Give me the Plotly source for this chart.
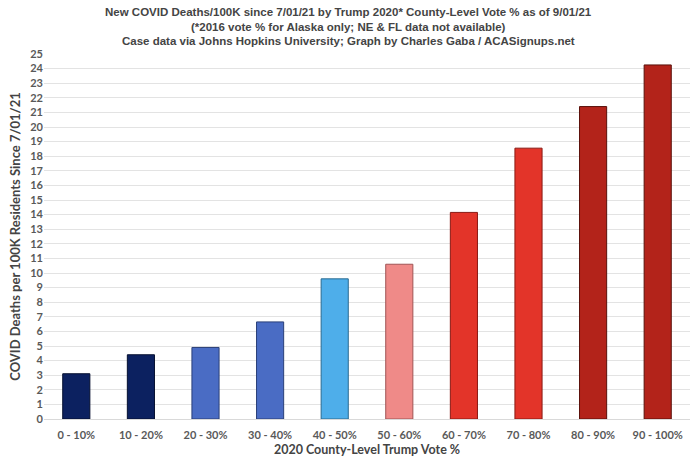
import plotly.graph_objects as go

categories = ["0 - 10%", "10 - 20%", "20 - 30%", "30 - 40%", "40 - 50%",
              "50 - 60%", "60 - 70%", "70 - 80%", "80 - 90%", "90 - 100%"]
values = [3.1, 4.4, 4.9, 6.65, 9.6, 10.6, 14.15, 18.55, 21.4, 24.25]
colors = ["#0c2160", "#0c2160", "#4a6cc4", "#4a6cc4", "#4eaeea",
          "#ef8a88", "#e33429", "#e33429", "#b3231a", "#b3231a"]
line_colors = ["#061030", "#061030", "#2a3f78", "#2a3f78", "#2a6a90",
               "#a05555", "#8a1a14", "#8a1a14", "#5a100a", "#5a100a"]
yticks = list(range(0, 26))

title_lines = [
    "New COVID Deaths/100K since 7/01/21 by Trump 2020* County-Level Vote % as of 9/01/21",
    "(*2016 vote % for Alaska only; NE & FL data not available)",
    "Case data via Johns Hopkins University; Graph by Charles Gaba / ACASignups.net",
]

fig = go.Figure(go.Bar(
    x=categories, y=values,
    marker=dict(color=colors, line=dict(color=line_colors, width=1)),
    width=0.42,
))

title_y = [12, 27, 41]
for line, py in zip(title_lines, title_y):
    fig.add_annotation(
        text=line, xref="paper", yref="paper",
        x=(348 - 44) / (690 - 44), y=1 + (419 - 365 - py) / 365 + 0 * py,
        xanchor="center", yanchor="middle", showarrow=False,
        font=dict(family="Liberation Sans, Arial, sans-serif", size=11.5,
                  color="#444444", weight="bold"),
    )

fig.update_layout(
    width=690, height=460,
    margin=dict(l=44, r=0, t=54, b=41),
    paper_bgcolor="white", plot_bgcolor="white",
    showlegend=False,
    font=dict(family="Lato, Open Sans, sans-serif", color="#595959"),
    xaxis=dict(
        title=dict(text="2020 County-Level Trump Vote %", standoff=5,
                   font=dict(size=12.5, color="#444444", weight="bold")),
        tickfont=dict(size=11, color="#595959", weight="bold"),
        showgrid=False, showline=True, linecolor="#d9d9d9",
        ticks="", ticklen=0, ticklabelstandoff=6,
    ),
    yaxis=dict(
        title=dict(text="COVID Deaths per 100K Residents Since 7/01/21", standoff=6,
                   font=dict(size=13, color="#444444", weight="bold")),
        range=[0, 25], tickvals=yticks, ticktext=[str(t) for t in yticks],
        tickfont=dict(size=11, color="#595959", weight="bold"),
        showgrid=True, gridcolor="#e3e3e3", gridwidth=1,
        zeroline=False, ticks="",
    ),
)

fig.write_html("out.html")
